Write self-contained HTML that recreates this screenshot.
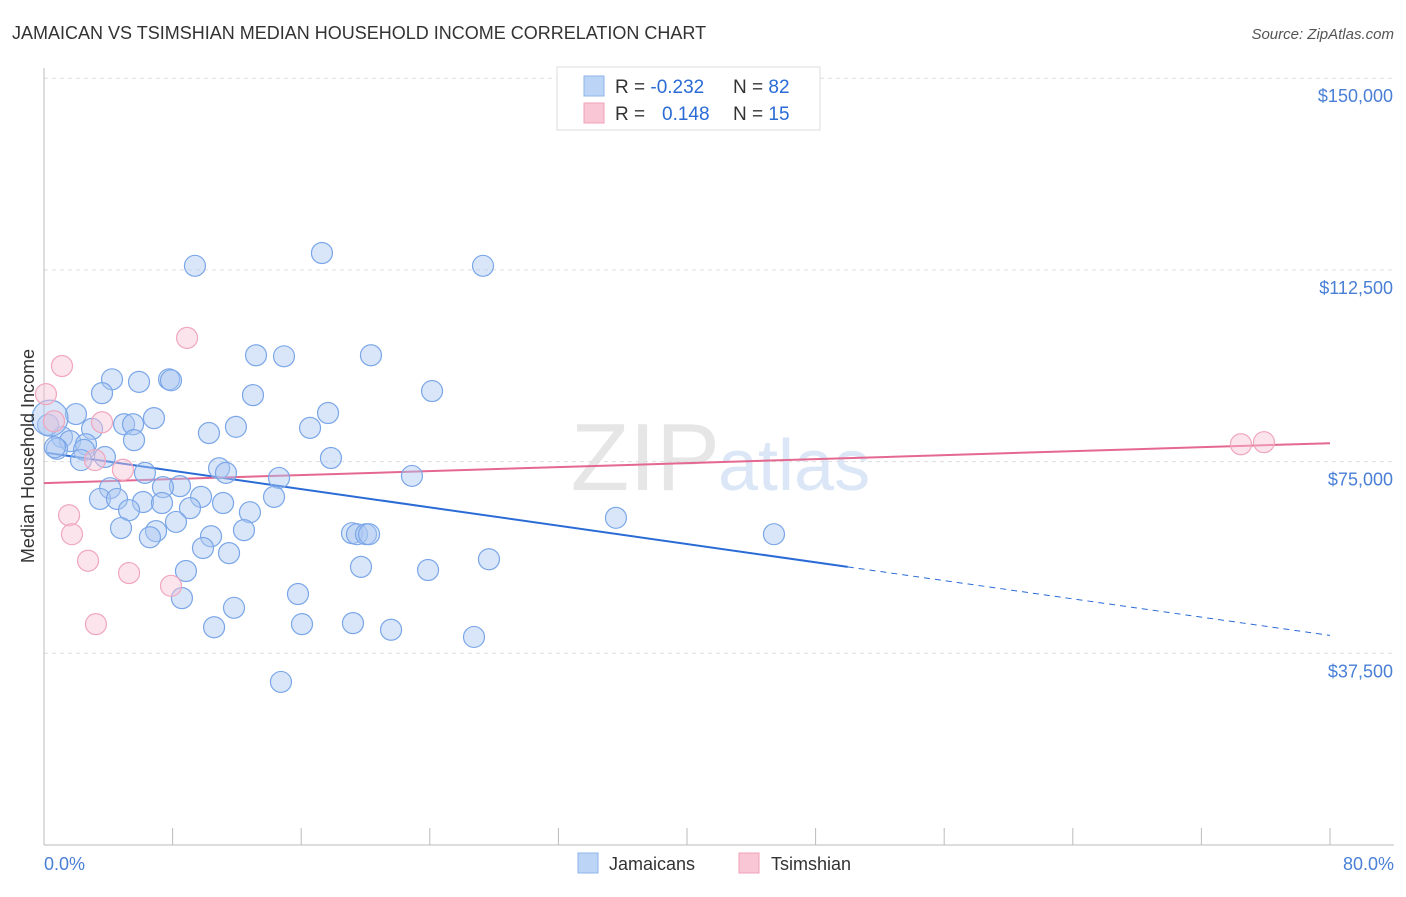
<!DOCTYPE html>
<html><head><meta charset="utf-8"><style>
body{margin:0;background:#fff;font-family:"Liberation Sans",sans-serif;}
svg text{font-family:"Liberation Sans",sans-serif;}
</style></head><body>
<svg width="1406" height="892" id="chart">
<text x="12" y="39" font-size="18" fill="#333">JAMAICAN VS TSIMSHIAN MEDIAN HOUSEHOLD INCOME CORRELATION CHART</text>
<text x="1394" y="39" font-size="15" fill="#555" font-style="italic" text-anchor="end">Source: ZipAtlas.com</text>
<text x="720" y="490" font-size="96" fill="#e6e6e6" text-anchor="end" font-family="Liberation Serif">ZIP</text>
<text x="718" y="490" font-size="72" fill="#dbe6f7">atlas</text>
<g id="grid"></g><g id="axes"></g><g id="trend"></g><g id="pts"></g>
<text transform="translate(34,456) rotate(-90)" font-size="18" fill="#333" text-anchor="middle">Median Household Income</text>
<text x="44" y="870" font-size="18" fill="#4a7fd6">0.0%</text>
<text x="1394" y="870" font-size="18" fill="#4a7fd6" text-anchor="end">80.0%</text>
<g>
<rect x="557" y="67" width="263" height="63" fill="#fff" stroke="#ddd"/>
<rect x="584" y="76" width="20" height="20" fill="#bcd4f5" stroke="#8fb3ea"/>
<rect x="584" y="103" width="20" height="20" fill="#f9c6d5" stroke="#f0a0b8"/>
<text x="615" y="93" font-size="19" fill="#333">R = <tspan fill="#2a6bd6">-0.232</tspan></text>
<text x="733" y="93" font-size="19" fill="#333">N = <tspan fill="#2a6bd6">82</tspan></text>
<text x="615" y="120" font-size="19" fill="#333">R = <tspan fill="#2a6bd6" x="662">0.148</tspan></text>
<text x="733" y="120" font-size="19" fill="#333">N = <tspan fill="#2a6bd6">15</tspan></text>
</g>
<g>
<rect x="578" y="853" width="20" height="20" fill="#bcd4f5" stroke="#8fb3ea"/>
<text x="609" y="870" font-size="18" fill="#333">Jamaicans</text>
<rect x="739" y="853" width="20" height="20" fill="#f9c6d5" stroke="#f0a0b8"/>
<text x="771" y="870" font-size="18" fill="#333">Tsimshian</text>
</g>
</svg>
<script>
const yTicks=[37500,75000,112500,150000];
const yTickLabels=["$37,500","$75,000","$112,500","$150,000"];
const xTicks=[0,8,16,24,32,40,48,56,64,72,80];
const blueX=[9.39,17.29,27.31,13.19,14.93,20.34,4.23,5.91,7.78,7.90,3.61,13.00,24.14,1.99,6.84,17.67,4.98,5.54,11.94,16.55,10.26,2.99,1.12,1.62,2.61,5.60,0.81,2.49,3.79,2.30,17.85,10.89,11.32,6.28,14.62,22.89,4.11,8.46,7.40,3.48,4.54,9.77,14.31,6.16,7.34,11.14,5.29,9.08,12.81,8.21,4.79,6.97,12.44,6.59,10.39,19.16,19.47,20.03,20.22,35.58,45.41,9.89,11.51,27.68,19.72,23.89,8.83,8.58,15.80,11.82,10.58,16.05,19.22,21.59,26.75,14.74,0.68,0.25,0.37];
const blueY=[113.3,115.8,113.3,95.8,95.6,95.8,91.1,90.6,91.1,90.9,88.4,88.0,88.8,84.3,83.5,84.5,82.3,82.3,81.8,81.6,80.6,81.4,79.8,79.0,78.4,79.2,77.5,77.3,75.9,75.3,75.7,73.7,72.8,72.8,71.8,72.2,69.8,70.2,70.0,67.7,67.7,68.1,68.1,67.1,66.9,66.9,65.5,65.9,65.1,63.2,62.0,61.4,61.6,60.2,60.4,61.0,60.8,60.8,60.8,64.0,60.8,58.1,57.1,55.9,54.4,53.8,53.6,48.3,49.1,46.4,42.6,43.2,43.4,42.1,40.7,31.9,77.8,82.2,83.5];
const pinkX=[1.12,8.90,0.12,3.61,0.62,3.17,4.91,1.56,1.74,2.74,5.29,7.90,3.23,74.46,75.89];
const pinkY=[93.7,99.2,88.2,82.7,82.9,75.3,73.4,64.5,60.8,55.6,53.2,50.7,43.2,78.4,78.8];
const blueTrend=[76.7,54.4,41.0]; // at 0%, 50%, 80% (thousands)
const pinkTrend=[70.8,78.6]; // at 0%, 80% (thousands)
const NS="http://www.w3.org/2000/svg";
const sx=p=>44+p*(1330-44)/80;
const sy=v=>845-v*191.7/37500;
function mk(tag,attrs,parent){const e=document.createElementNS(NS,tag);for(const k in attrs)e.setAttribute(k,attrs[k]);document.getElementById(parent).appendChild(e);return e;}
yTicks.forEach((t,i)=>{
 const g=mk('line',{x1:44,x2:1394,y1:sy(t),y2:sy(t),stroke:'#ddd','stroke-dasharray':'4,4'},'grid');
 
 
 const tx=mk('text',{x:1393,y:sy(t)+24,'font-size':18,fill:'#4a7fd6','text-anchor':'end'},'grid');
 tx.textContent=yTickLabels[i];
 
 
});
const ax=mk('line',{x1:44,x2:44,y1:68,y2:845,stroke:'#bbb'},'axes');


const bx=mk('line',{x1:44,x2:1394,y1:845,y2:845,stroke:'#bbb'},'axes');


xTicks.forEach(t=>{
 const l=mk('line',{x1:sx(t),x2:sx(t),y1:828,y2:845,stroke:'#bbb'},'axes');
 
 
});
const bt=mk('line',{x1:sx(0.2),y1:sy(blueTrend[0]*1000),x2:sx(50),y2:sy(blueTrend[1]*1000),stroke:'#2a6bd6','stroke-width':2},'trend');


const bd=mk('line',{x1:sx(50),y1:sy(blueTrend[1]*1000),x2:sx(80),y2:sy(blueTrend[2]*1000),stroke:'#2a6bd6','stroke-width':1,'stroke-dasharray':'6,5'},'trend');


const pt=mk('line',{x1:sx(0),y1:sy(pinkTrend[0]*1000),x2:sx(80),y2:sy(pinkTrend[1]*1000),stroke:'#e4688f','stroke-width':2},'trend');


blueX.forEach((x,i)=>{
 const c=mk('circle',{cx:sx(x),cy:sy(blueY[i]*1000),r:i===blueX.length-1?18:10.5,fill:'rgba(170,200,242,0.45)',stroke:'#7aa6e8','stroke-width':1.2},'pts');
 
 
});
pinkX.forEach((x,i)=>{
 const c=mk('circle',{cx:sx(x),cy:sy(pinkY[i]*1000),r:10.5,fill:'rgba(248,195,212,0.45)',stroke:'#f0a6bd','stroke-width':1.2},'pts');
 
 
});
</script>
</body></html>
